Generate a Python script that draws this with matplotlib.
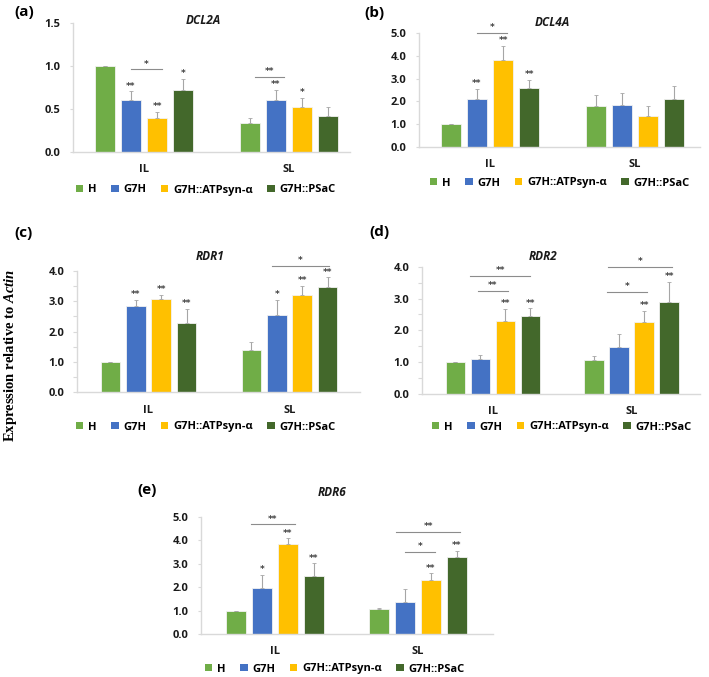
import matplotlib
matplotlib.use("Agg")
import matplotlib.pyplot as plt
from matplotlib.patches import Patch
import numpy as np

# ---------------- data ----------------
groups = ["IL", "SL"]
series = ["H", "G7H", "G7H::ATPsyn-\u03b1", "G7H::PSaC"]
colors = ["#70AD47", "#4472C4", "#FFC000", "#43682B"]

# DCL2A
dcl2a_IL = [1.00, 0.605, 0.40, 0.72]
dcl2a_SL = [0.335, 0.61, 0.52, 0.415]
dcl2a_IL_err = [0.0, 0.10, 0.07, 0.13]
dcl2a_SL_err = [0.055, 0.11, 0.11, 0.105]
dcl2a_IL_sig = ["", "**", "**", "*"]
dcl2a_SL_sig = ["", "**", "*", ""]
dcl2a_brackets = [(0, 1.0, 2.2, 0.96, "*"), (1, 0.2, 1.3, 0.875, "**")]

# DCL4A
dcl4a_IL = [1.00, 2.12, 3.84, 2.57]
dcl4a_SL = [1.79, 1.85, 1.34, 2.09]
dcl4a_IL_err = [0.0, 0.42, 0.60, 0.37]
dcl4a_SL_err = [0.49, 0.50, 0.45, 0.59]
dcl4a_IL_sig = ["", "**", "**", "**"]
dcl4a_SL_sig = ["", "", "", ""]
dcl4a_brackets = [(0, 1.0, 2.15, 5.01, "*")]

# RDR1
rdr1_IL = [1.00, 2.83, 3.07, 2.30]
rdr1_SL = [1.40, 2.55, 3.22, 3.46]
rdr1_IL_err = [0.0, 0.21, 0.14, 0.45]
rdr1_SL_err = [0.25, 0.49, 0.29, 0.33]
rdr1_IL_sig = ["", "**", "**", "**"]
rdr1_SL_sig = ["", "*", "**", "**"]
rdr1_brackets = [(1, 0.8, 3.05, 4.16, "*")]

# RDR2
rdr2_IL = [1.00, 1.11, 2.29, 2.44]
rdr2_SL = [1.08, 1.49, 2.25, 2.90]
rdr2_IL_err = [0.0, 0.13, 0.38, 0.25]
rdr2_SL_err = [0.11, 0.38, 0.36, 0.63]
rdr2_IL_sig = ["", "", "**", "**"]
rdr2_SL_sig = ["", "", "**", "**"]
rdr2_brackets = [(0, 0.9, 2.1, 3.24, "**"), (0, 0.6, 3.0, 3.72, "**"),
                 (1, 0.5, 2.1, 3.21, "*"), (1, 0.55, 3.1, 4.00, "*")]

# RDR6
rdr6_IL = [1.00, 1.96, 3.84, 2.49]
rdr6_SL = [1.05, 1.36, 2.30, 3.30]
rdr6_IL_err = [0.0, 0.55, 0.24, 0.52]
rdr6_SL_err = [0.05, 0.56, 0.29, 0.25]
rdr6_IL_sig = ["", "*", "**", "**"]
rdr6_SL_sig = ["", "", "**", "**"]
rdr6_brackets = [(0, 0.57, 2.27, 4.67, "**"), (1, 1.0, 2.15, 3.49, "*"),
                 (1, 0.65, 3.15, 4.35, "**")]

# ---------------- layout ----------------
W, H = 709, 677
FONT = ["Open Sans", "DejaVu Sans"]
plt.rcParams["font.family"] = FONT
plt.rcParams["mathtext.fontset"] = "custom"
plt.rcParams["mathtext.rm"] = "Liberation Serif:bold"
plt.rcParams["mathtext.it"] = "Liberation Serif:italic:bold"

fig = plt.figure(figsize=(W / 100, H / 100), dpi=100)

PITCH = 0.18
BARW = 0.14
SPINE = "#d9d9d9"
TXT = "#1a1a1a"


def fx(x):
    return x / W


def fy(y):
    return 1 - y / H


panels = [
    dict(tag="(a)", tag_xy=(14, 12), title="DCL2A", title_xy=(203, 20),
         c0=144, c1=289, l=73, r=350, t=23, b=152, ymax=1.5, step=0.5, minor=False,
         leg_xy=(206, 190),
         IL=dcl2a_IL, SL=dcl2a_SL, ILe=dcl2a_IL_err, SLe=dcl2a_SL_err,
         ILs=dcl2a_IL_sig, SLs=dcl2a_SL_sig, br=dcl2a_brackets),
    dict(tag="(b)", tag_xy=(364, 13), title="DCL4A", title_xy=(552, 22),
         c0=490, c1=635, l=419, r=700, t=33.3, b=146.7, ymax=5.0, step=1.0, minor=False,
         leg_xy=(560, 183),
         IL=dcl4a_IL, SL=dcl4a_SL, ILe=dcl4a_IL_err, SLe=dcl4a_SL_err,
         ILs=dcl4a_IL_sig, SLs=dcl4a_SL_sig, br=dcl4a_brackets),
    dict(tag="(c)", tag_xy=(14, 233), title="RDR1", title_xy=(210, 257),
         c0=148.5, c1=289.5, l=77, r=360, t=271, b=392.3, ymax=4.0, step=1.0, minor=True,
         leg_xy=(206, 427),
         IL=rdr1_IL, SL=rdr1_SL, ILe=rdr1_IL_err, SLe=rdr1_SL_err,
         ILs=rdr1_IL_sig, SLs=rdr1_SL_sig, br=rdr1_brackets),
    dict(tag="(d)", tag_xy=(369, 232), title="RDR2", title_xy=(543, 257),
         c0=492.8, c1=631.7, l=422, r=700, t=266.7, b=394, ymax=4.0, step=1.0, minor=True,
         leg_xy=(562, 427),
         IL=rdr2_IL, SL=rdr2_SL, ILe=rdr2_IL_err, SLe=rdr2_SL_err,
         ILs=rdr2_IL_sig, SLs=rdr2_SL_sig, br=rdr2_brackets),
    dict(tag="(e)", tag_xy=(137, 490), title="RDR6", title_xy=(332, 492),
         c0=275, c1=418, l=200.7, r=493, t=516.7, b=634, ymax=5.0, step=1.0, minor=False,
         leg_xy=(335, 669),
         IL=rdr6_IL, SL=rdr6_SL, ILe=rdr6_IL_err, SLe=rdr6_SL_err,
         ILs=rdr6_IL_sig, SLs=rdr6_SL_sig, br=rdr6_brackets),
]

STAR = dict(fontsize=6.5, color="#404040", fontweight="bold", family="DejaVu Sans")

for p in panels:
    ax = fig.add_axes([fx(p["l"]), fy(p["b"]), fx(p["r"] - p["l"]), (p["b"] - p["t"]) / H])
    span = p["c1"] - p["c0"]
    ax.set_xlim((p["l"] - p["c0"]) / span, (p["r"] - p["c0"]) / span)
    ax.set_ylim(0, p["ymax"])

    means = np.array([p["IL"], p["SL"]])
    errs = np.array([p["ILe"], p["SLe"]])
    sigs = [p["ILs"], p["SLs"]]
    gx = np.arange(len(groups))
    offs = (np.arange(len(series)) - 1.5) * PITCH

    for i, (name, col) in enumerate(zip(series, colors)):
        xs = gx + offs[i]
        ax.bar(xs, means[:, i], width=BARW, color=col, edgecolor="#f2f2f2",
               linewidth=0.6, zorder=2)
        ax.errorbar(xs, means[:, i], yerr=[np.zeros(len(groups)), errs[:, i]],
                    fmt="none", ecolor="#a6a6a6", elinewidth=0.8, capsize=1.2,
                    capthick=0.6, zorder=3)
        for g in range(len(groups)):
            s = sigs[g][i]
            if s:
                ax.annotate(s, (xs[g], means[g, i] + errs[g, i]), xytext=(0, 0.5),
                            textcoords="offset points", ha="center", va="bottom",
                            annotation_clip=False, **STAR)

    for g, i1, i2, yv, lab in p["br"]:
        x1 = gx[g] + (i1 - 1.5) * PITCH
        x2 = gx[g] + (i2 - 1.5) * PITCH
        ax.plot([x1, x2], [yv, yv], color="#8c8c8c", lw=0.8, clip_on=False, zorder=3)
        ax.annotate(lab, ((x1 + x2) / 2, yv), xytext=(0, 0.5), textcoords="offset points",
                    ha="center", va="bottom", annotation_clip=False, **STAR)

    ticks = np.arange(0, p["ymax"] + 1e-9, p["step"])
    ax.set_yticks(ticks)
    ax.set_yticklabels([f"{t:.1f}" for t in ticks], fontsize=8, fontweight="bold", color=TXT)
    if p["minor"]:
        ax.set_yticks(np.arange(0, p["ymax"] + 1e-9, p["step"] / 2), minor=True)
        ax.tick_params(axis="y", which="minor", length=3, color=SPINE, width=0.8)
        ax.tick_params(axis="y", which="major", length=3, color=SPINE, width=0.8, pad=6)
    else:
        ax.tick_params(axis="y", which="major", length=2, color=SPINE, width=0.8, pad=7)
    ax.set_xticks(gx)
    ax.set_xticklabels(groups, fontsize=8, fontweight="bold", color=TXT)
    ax.tick_params(axis="x", length=0, pad=9)

    for side in ("top", "right"):
        ax.spines[side].set_visible(False)
    for side in ("left", "bottom"):
        ax.spines[side].set_color(SPINE)
        ax.spines[side].set_linewidth(1.0)

    fig.text(fx(p["title_xy"][0]), fy(p["title_xy"][1]), p["title"], ha="center",
             va="center", fontsize=8.5, fontweight="bold", fontstyle="italic",
             family=["Open Sans", "DejaVu Sans"], color=TXT)
    fig.text(fx(p["tag_xy"][0]), fy(p["tag_xy"][1]), p["tag"], ha="left", va="center",
             fontsize=11, fontweight="bold", color="#000000")

    handles = [Patch(facecolor=c, edgecolor="none") for c in colors]
    fig.legend(handles, series, loc="center", bbox_to_anchor=(fx(p["leg_xy"][0]), fy(p["leg_xy"][1])),
               ncol=4, frameon=False, handlelength=0.65, handleheight=0.65,
               handletextpad=0.45, columnspacing=1.3,
               prop=dict(family=FONT, weight="bold", size=8))

fig.text(fx(11), fy(355), r"Expression relative to $\mathit{Actin}$", rotation=90,
         ha="center", va="center", fontsize=10.5, fontweight="bold",
         family="Liberation Serif", color="#000000")

fig.savefig("out.png", dpi=100)
